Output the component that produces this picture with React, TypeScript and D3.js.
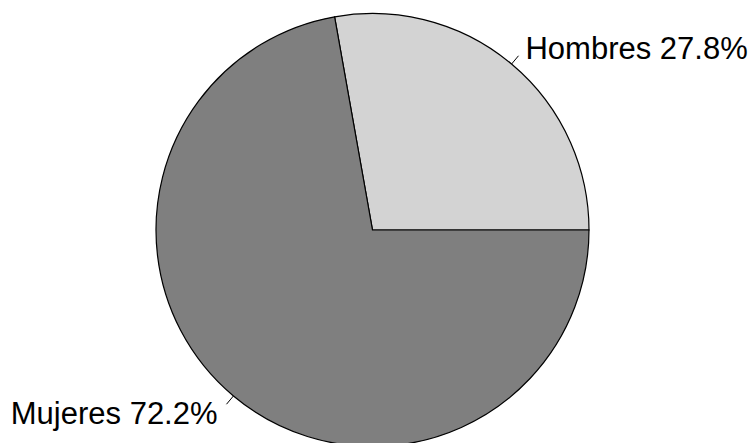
import React from "react";
import * as d3 from "d3";

const categories = ["Hombres", "Mujeres"];
const values = [27.8, 72.2];
const colors = ["#D3D3D3", "#7F7F7F"];
const labels = ["Hombres 27.8%", "Mujeres 72.2%"];

const W = 754;
const H = 443;
const cx = 372.5;
const cy = 230;
const R = 216.5;
const fontSize = 31;

export default function App() {
  const total = d3.sum(values);
  // R pie: start at 3 o'clock, counterclockwise. d3 angles: 0 at 12 o'clock, clockwise.
  const toRad = d3.scaleLinear().domain([0, total]).range([Math.PI / 2, Math.PI / 2 - 2 * Math.PI]);
  let acc = 0;
  const slices = values.map((v, i) => {
    const a0 = toRad(acc);
    const a1 = toRad(acc + v);
    acc += v;
    return { i, a0, a1 };
  });
  const arc = d3.arc<any>().innerRadius(0).outerRadius(R);
  return (
    <svg width={W} height={H} style={{ position: "absolute", left: 0, top: 0, background: "#fff" }}>
      {slices.map((s) => (
        <path
          key={categories[s.i]}
          transform={`translate(${cx},${cy})`}
          d={arc({ startAngle: Math.min(s.a0, s.a1), endAngle: Math.max(s.a0, s.a1) }) || ""}
          fill={colors[s.i]}
          stroke="#000"
          strokeWidth={1.2}
        />
      ))}
      {slices.map((s) => {
        const mid = (s.a0 + s.a1) / 2; // d3 angle
        const dx = Math.sin(mid);
        const dy = -Math.cos(mid);
        const lx = cx + dx * R * 1.1;
        const ly = cy + dy * R * 1.1;
        return (
          <g key={"l" + s.i}>
            <line
              x1={cx + dx * R}
              y1={cy + dy * R}
              x2={cx + dx * R * 1.05}
              y2={cy + dy * R * 1.05}
              stroke="#000"
              strokeWidth={1}
            />
            <text
              x={lx + (dx >= 0 ? 0 : -2)}
              y={ly + fontSize * 0.716 / 2}
              fontFamily="'Liberation Sans', Arial, sans-serif"
              fontSize={fontSize}
              textAnchor={dx >= 0 ? "start" : "end"}
              fill="#000"
            >
              {labels[s.i]}
            </text>
          </g>
        );
      })}
    </svg>
  );
}
